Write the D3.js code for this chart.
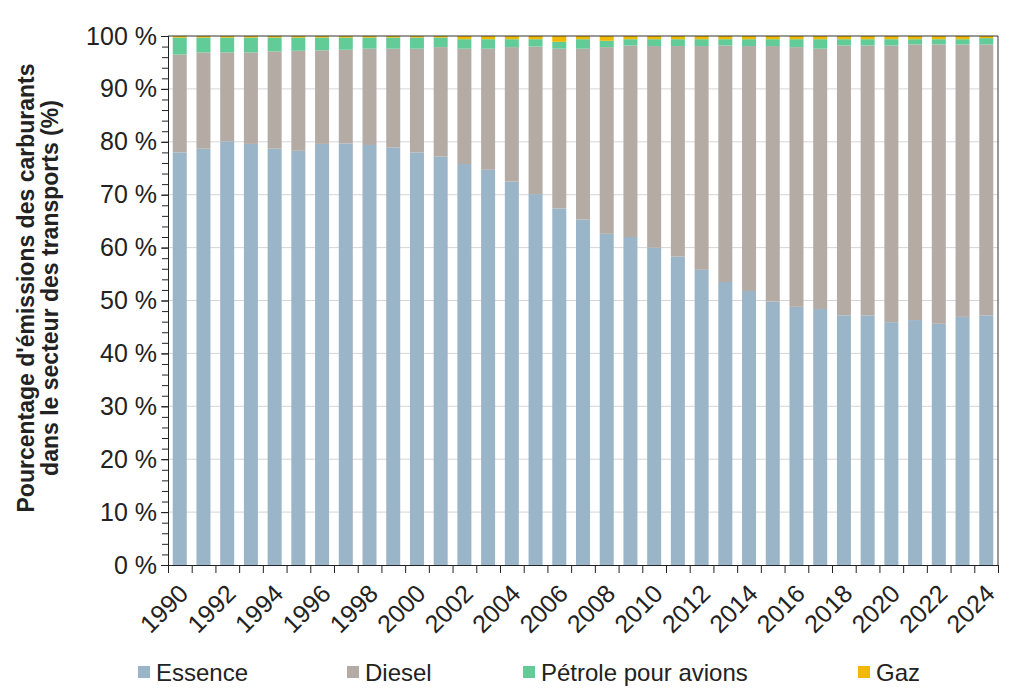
<!DOCTYPE html>
<html>
<head>
<meta charset="utf-8">
<script src="https://cdn.jsdelivr.net/npm/d3@7"></script>
<style>
  body { margin: 0; background: #fff; }
  text { font-family: "Liberation Sans", Arial, sans-serif; fill: #222; }
</style>
</head>
<body>
<script>
//Consts/global variables
const w = 1024;
const h = 697;
const plotLeft = 168, plotRight = 998, plotTop = 36, plotBottom = 565;

//data (shares in %)
const years = d3.range(1990, 2025);
const essence = [78.0, 78.7, 80.1, 79.6, 78.7, 78.3, 79.6, 79.7, 79.4, 78.9, 78.0, 77.2, 75.8, 74.7, 72.5, 70.1, 67.4, 65.3,
                 62.6, 62.0, 60.0, 58.3, 55.8, 53.5, 51.8, 49.8, 48.8, 48.4, 47.2, 47.2, 45.9, 46.3, 45.6, 46.9, 47.2];
const diesel = [18.5, 18.2, 16.8, 17.3, 18.4, 18.9, 17.7, 17.7, 18.2, 18.7, 19.6, 20.7, 21.8, 22.9, 25.4, 27.9, 30.2, 32.3,
                35.3, 36.2, 38.1, 39.8, 42.3, 44.7, 46.3, 48.3, 49.1, 49.2, 51.0, 51.0, 52.3, 52.1, 52.8, 51.5, 51.2];
const jet = [3.2, 2.8, 2.8, 2.8, 2.6, 2.5, 2.4, 2.3, 2.1, 2.1, 2.1, 1.8, 1.8, 1.8, 1.5, 1.4, 1.3, 1.8,
             1.2, 1.2, 1.3, 1.3, 1.3, 1.2, 1.3, 1.3, 1.5, 1.8, 1.2, 1.2, 1.2, 1.0, 1.0, 1.0, 1.2];
const gaz = [0.3, 0.3, 0.3, 0.3, 0.3, 0.3, 0.3, 0.3, 0.3, 0.3, 0.3, 0.3, 0.6, 0.6, 0.6, 0.6, 1.1, 0.6,
             0.9, 0.6, 0.6, 0.6, 0.6, 0.6, 0.6, 0.6, 0.6, 0.6, 0.6, 0.6, 0.6, 0.6, 0.6, 0.6, 0.4];
const yTicks = d3.range(0, 101, 10);
const xLabels = years.filter(y => y % 2 === 0);

const keys = ["Essence", "Diesel", "Pétrole pour avions", "Gaz"];
const colors = ["#9ab4c8", "#b4aba5", "#62cc98", "#f0b800"];
const series = [essence, diesel, jet, gaz];

//table for the stack
const data = years.map((y, i) => {
    const row = { year: y };
    keys.forEach((k, j) => row[k] = series[j][i]);
    return row;
});
const stacked = d3.stack().keys(keys)(data);

//scales
const xScale = d3.scaleBand()
                 .domain(years)
                 .range([plotLeft, plotRight])
                 .paddingInner(0.41)
                 .paddingOuter(0.2);

const yScale = d3.scaleLinear()
                 .domain([0, 100])
                 .range([plotBottom, plotTop]);

const color = d3.scaleOrdinal().domain(keys).range(colors);

//SVG
const svg = d3.select("body")
              .append("svg")
              .attr("width", w)
              .attr("height", h);

//gridlines
svg.append("g")
   .selectAll("line")
   .data(yTicks.slice(1, -1))
   .join("line")
   .attr("x1", plotLeft).attr("x2", plotRight)
   .attr("y1", d => yScale(d)).attr("y2", d => yScale(d))
   .attr("stroke", "#d6d6d6")
   .attr("stroke-width", 1);

//bars
svg.append("g")
   .selectAll("g")
   .data(stacked)
   .join("g")
   .attr("fill", d => color(d.key))
   .selectAll("rect")
   .data(d => d)
   .join("rect")
   .attr("x", d => xScale(d.data.year))
   .attr("width", xScale.bandwidth())
   .attr("y", d => yScale(d[1]))
   .attr("height", d => yScale(d[0]) - yScale(d[1]));

//plot border top and right
svg.append("line")
   .attr("x1", plotLeft).attr("x2", plotRight)
   .attr("y1", plotTop).attr("y2", plotTop)
   .attr("stroke", "#333");
svg.append("line")
   .attr("x1", plotRight).attr("x2", plotRight)
   .attr("y1", plotTop).attr("y2", plotBottom)
   .attr("stroke", "#333");

//left axis with minor ticks
const minorAxis = d3.axisLeft(yScale)
                    .tickValues(d3.range(0, 101, 2))
                    .tickSize(6)
                    .tickFormat("");
svg.append("g")
   .attr("transform", "translate(" + plotLeft + ",0)")
   .call(minorAxis)
   .call(g => g.selectAll("line, path").attr("stroke", "#222"));

const leftAxis = d3.axisLeft(yScale)
                   .tickValues(yTicks)
                   .tickSize(7)
                   .tickPadding(4)
                   .tickFormat(d => d + " %");
svg.append("g")
   .attr("transform", "translate(" + plotLeft + ",0)")
   .call(leftAxis)
   .call(g => g.select(".domain").attr("stroke", "#222"))
   .call(g => g.selectAll("line").attr("stroke", "#222"))
   .call(g => g.selectAll("text").attr("font-size", 25).attr("fill", "#222").attr("font-family", "Liberation Sans, Arial, sans-serif"));

//bottom axis: ticks on the band boundaries
const edgeScale = d3.scaleLinear().domain([0, years.length]).range([plotLeft, plotRight]);
svg.append("g")
   .attr("transform", "translate(0," + plotBottom + ")")
   .call(d3.axisBottom(edgeScale).tickValues(d3.range(0, years.length + 1)).tickSize(8).tickFormat(""))
   .call(g => g.selectAll("line, path").attr("stroke", "#222"));

//rotated year labels
svg.append("g")
   .selectAll("text")
   .data(xLabels)
   .join("text")
   .attr("transform", d => "translate(" + (xScale(d) + xScale.bandwidth() / 2 + 4) + "," + (plotBottom + 24) + ") rotate(-45)")
   .attr("text-anchor", "end")
   .attr("dy", "0.35em")
   .attr("font-size", 25)
   .text(d => d);

//axis title
const title = svg.append("text")
   .attr("transform", "translate(40,288) rotate(-90)")
   .attr("text-anchor", "middle")
   .attr("font-size", 23)
   .attr("font-weight", "bold");
title.append("tspan").attr("x", 0).attr("dy", "-0.25em").text("Pourcentage d'émissions  des carburants");
title.append("tspan").attr("x", 0).attr("dy", "1.05em").text("dans le secteur des transports  (%)");

//legend
const legendX = [138, 347, 523, 858];
const legend = svg.append("g")
   .selectAll("g")
   .data(keys)
   .join("g")
   .attr("transform", (d, i) => "translate(" + legendX[i] + ",672)");
legend.append("rect")
   .attr("x", 0).attr("y", -6)
   .attr("width", 12).attr("height", 12)
   .attr("fill", d => color(d));
legend.append("text")
   .attr("x", 18)
   .attr("dy", "0.36em")
   .attr("font-size", 24)
   .text(d => d);
</script>
</body>
</html>
